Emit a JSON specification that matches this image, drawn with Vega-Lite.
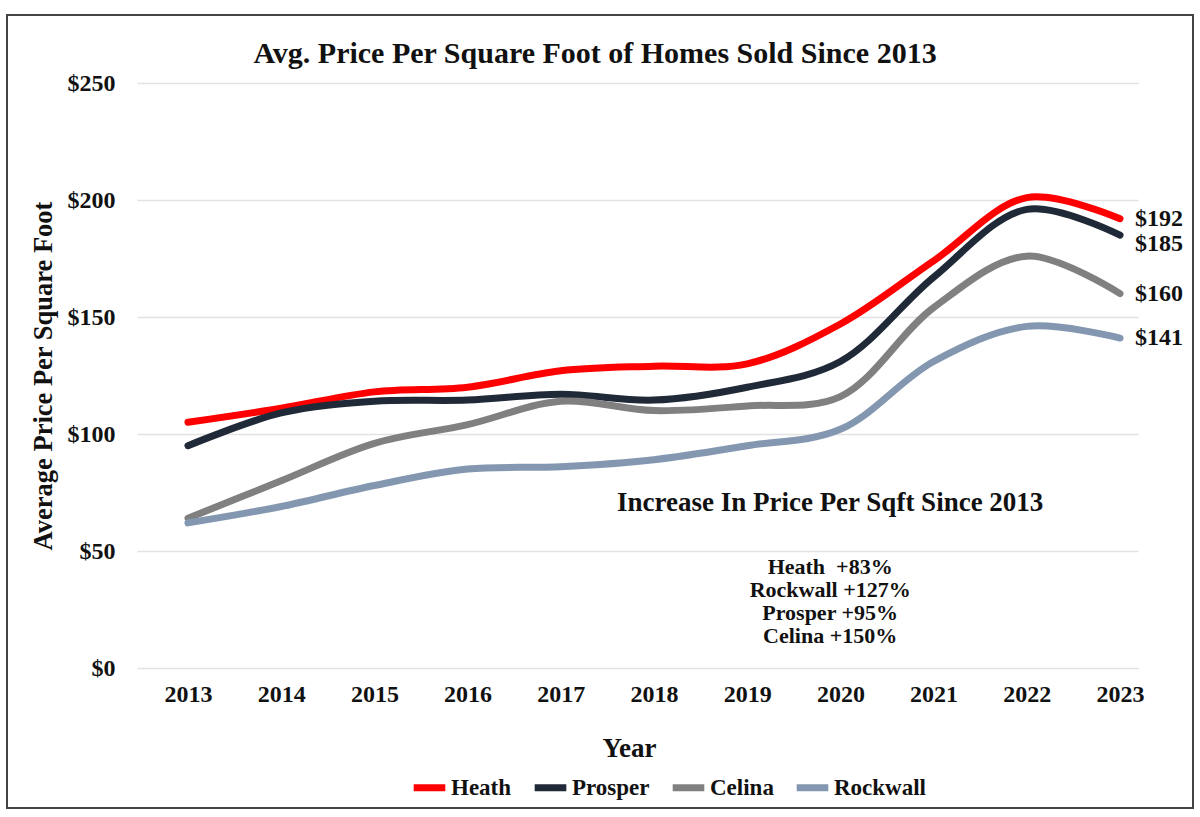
{
  "$schema": "https://vega.github.io/schema/vega-lite/v6.json",
  "autosize": {"type": "none"},
  "width": 1186,
  "height": 793,
  "padding": {"left": 7, "top": 15, "right": 7, "bottom": 9},
  "background": "white",
  "title": {
    "text": "Avg. Price Per Square Foot of Homes Sold Since 2013",
    "font": "Liberation Serif",
    "fontSize": 30,
    "fontWeight": "bold",
    "color": "#111",
    "anchor": "middle",
    "offset": -54,
    "dx": -5
  },
  "config": {
    "font": "Liberation Serif",
    "view": {"stroke": "#444", "strokeWidth": 2, "fill": "white"}
  },
  "datasets": {
    "prices": [
      {"year": 2013, "city": "Heath", "price": 105},
      {"year": 2014, "city": "Heath", "price": 111},
      {"year": 2015, "city": "Heath", "price": 118},
      {"year": 2016, "city": "Heath", "price": 120},
      {"year": 2017, "city": "Heath", "price": 127},
      {"year": 2018, "city": "Heath", "price": 129},
      {"year": 2019, "city": "Heath", "price": 130},
      {"year": 2020, "city": "Heath", "price": 147},
      {"year": 2021, "city": "Heath", "price": 174},
      {"year": 2022, "city": "Heath", "price": 201},
      {"year": 2023, "city": "Heath", "price": 192},
      {"year": 2013, "city": "Prosper", "price": 95},
      {"year": 2014, "city": "Prosper", "price": 109},
      {"year": 2015, "city": "Prosper", "price": 114},
      {"year": 2016, "city": "Prosper", "price": 114.5},
      {"year": 2017, "city": "Prosper", "price": 117},
      {"year": 2018, "city": "Prosper", "price": 114.5},
      {"year": 2019, "city": "Prosper", "price": 120},
      {"year": 2020, "city": "Prosper", "price": 131},
      {"year": 2021, "city": "Prosper", "price": 167},
      {"year": 2022, "city": "Prosper", "price": 196},
      {"year": 2023, "city": "Prosper", "price": 185},
      {"year": 2013, "city": "Celina", "price": 64},
      {"year": 2014, "city": "Celina", "price": 80},
      {"year": 2015, "city": "Celina", "price": 96},
      {"year": 2016, "city": "Celina", "price": 104},
      {"year": 2017, "city": "Celina", "price": 114},
      {"year": 2018, "city": "Celina", "price": 110},
      {"year": 2019, "city": "Celina", "price": 112},
      {"year": 2020, "city": "Celina", "price": 116},
      {"year": 2021, "city": "Celina", "price": 154},
      {"year": 2022, "city": "Celina", "price": 176},
      {"year": 2023, "city": "Celina", "price": 160},
      {"year": 2013, "city": "Rockwall", "price": 62},
      {"year": 2014, "city": "Rockwall", "price": 69},
      {"year": 2015, "city": "Rockwall", "price": 78},
      {"year": 2016, "city": "Rockwall", "price": 85},
      {"year": 2017, "city": "Rockwall", "price": 86},
      {"year": 2018, "city": "Rockwall", "price": 89},
      {"year": 2019, "city": "Rockwall", "price": 95},
      {"year": 2020, "city": "Rockwall", "price": 102},
      {"year": 2021, "city": "Rockwall", "price": 131},
      {"year": 2022, "city": "Rockwall", "price": 146},
      {"year": 2023, "city": "Rockwall", "price": 141}
    ],
    "ends": [
      {"year": 2023, "city": "Heath", "price": 192, "label": "$192"},
      {"year": 2023, "city": "Prosper", "price": 185, "label": "$185"},
      {"year": 2023, "city": "Celina", "price": 160, "label": "$160"},
      {"year": 2023, "city": "Rockwall", "price": 141, "label": "$141"}
    ],
    "notes": [
      {"year": 2019.89, "price": 70.5, "text": "Increase In Price Per Sqft Since 2013", "kind": "head"},
      {"year": 2019.89, "price": 43.2, "text": "Heath\u00a0 +83%", "kind": "line"},
      {"year": 2019.89, "price": 33.4, "text": "Rockwall +127%", "kind": "line"},
      {"year": 2019.89, "price": 23.6, "text": "Prosper +95%", "kind": "line"},
      {"year": 2019.89, "price": 13.8, "text": "Celina +150%", "kind": "line"}
    ]
  },
  "encoding": {
    "x": {
      "field": "year",
      "type": "quantitative",
      "scale": {"domain": [2012.453, 2023.193], "range": [130, 1131], "nice": false, "zero": false},
      "axis": {
        "orient": "bottom",
        "offset": -140,
        "values": [2013, 2014, 2015, 2016, 2017, 2018, 2019, 2020, 2021, 2022, 2023],
        "format": "d",
        "grid": false,
        "domain": false,
        "ticks": false,
        "labelPadding": 14,
        "labelFont": "Liberation Serif",
        "labelFontSize": 24,
        "labelFontWeight": "bold",
        "labelColor": "#111",
        "title": "Year",
        "titleFont": "Liberation Serif",
        "titleFontSize": 27,
        "titleFontWeight": "bold",
        "titleColor": "#111",
        "titlePadding": 29,
        "titleX": 622
      }
    },
    "y": {
      "field": "price",
      "type": "quantitative",
      "scale": {"domain": [0, 250], "range": [653, 68], "nice": false, "zero": false},
      "axis": {
        "orient": "left",
        "offset": -130,
        "values": [0, 50, 100, 150, 200, 250],
        "labelExpr": "'$' + datum.value",
        "grid": true,
        "gridColor": "#e2e2e2",
        "gridWidth": 1.5,
        "domain": false,
        "ticks": false,
        "labelPadding": 22,
        "labelFont": "Liberation Serif",
        "labelFontSize": 24,
        "labelFontWeight": "bold",
        "labelColor": "#111",
        "title": "Average Price Per Square Foot",
        "titleFont": "Liberation Serif",
        "titleFontSize": 26.5,
        "titleFontWeight": "bold",
        "titleColor": "#111",
        "titlePadding": 10
      }
    }
  },
  "layer": [
    {
      "data": {"name": "prices"},
      "mark": {"type": "line", "interpolate": "catmull-rom", "strokeWidth": 7, "strokeCap": "round", "strokeJoin": "round"},
      "encoding": {
        "color": {
          "field": "city",
          "type": "nominal",
          "sort": ["Heath", "Prosper", "Celina", "Rockwall"],
          "scale": {"domain": ["Heath", "Prosper", "Celina", "Rockwall"], "range": ["#ff0000", "#1f2937", "#808080", "#8497b0"]},
          "legend": {
            "orient": "none",
            "direction": "horizontal",
            "legendX": 403,
            "legendY": 753,
            "title": null,
            "symbolType": "stroke",
            "symbolStrokeWidth": 7,
            "symbolSize": 1000,
            "labelFont": "Liberation Serif",
            "labelFontSize": 23,
            "labelFontWeight": "bold",
            "labelColor": "#111",
            "labelOffset": 2,
            "columnPadding": 8
          }
        },
        "order": {"field": "city", "type": "nominal"}
      }
    },
    {
      "data": {"name": "ends"},
      "mark": {
        "type": "text",
        "align": "left",
        "baseline": "middle",
        "dx": 15,
        "dy": {"expr": "datum.city === 'Prosper' ? 9 : 0"},
        "font": "Liberation Serif",
        "fontSize": 24,
        "fontWeight": "bold",
        "color": "#111"
      },
      "encoding": {"text": {"field": "label"}}
    },
    {
      "data": {"name": "notes"},
      "mark": {
        "type": "text",
        "align": "center",
        "baseline": "middle",
        "font": "Liberation Serif",
        "fontWeight": "bold",
        "color": "#111"
      },
      "encoding": {
        "text": {"field": "text"},
        "size": {"condition": {"test": "datum.kind === 'head'", "value": 27}, "value": 22}
      }
    }
  ]
}
